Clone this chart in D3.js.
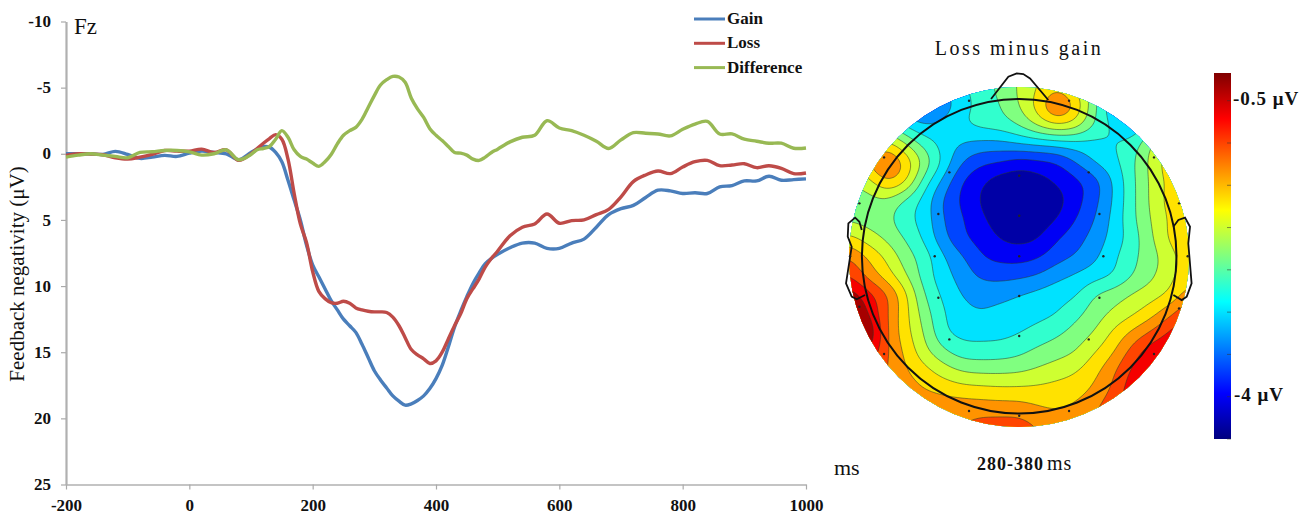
<!DOCTYPE html>
<html>
<head>
<meta charset="utf-8">
<script src="https://cdnjs.cloudflare.com/ajax/libs/d3/7.8.5/d3.min.js"></script>
<style>
html,body{margin:0;padding:0;background:#fff}
svg{display:block}
text{font-family:"Liberation Serif","Times New Roman",serif;fill:#111}
.tick text{font-weight:bold;font-size:17px}
</style>
</head>
<body>
<svg id="c" width="1305" height="516"></svg>
<script>
// ---------- ERP waveforms at Fz ----------
const timeMs = [-200,-180,-160,-140,-120,-100,-80,-60,-40,-20,0,20,40,60,80,100,
110,120,130,140,150,160,170,180,190,200,210,220,230,240,250,260,270,280,290,300,
310,320,330,340,350,360,370,380,390,400,410,420,430,440,450,460,470,480,490,500,
520,540,560,580,600,620,640,660,680,700,720,740,760,780,800,820,840,860,880,900,920,940,960,980,1000];
const gain = [0,0,0,.05,-.18,.05,.35,.25,.12,.2,-.05,-.2,-.1,0,.45,-.1,
-.35,-.55,-.5,-.1,.6,2.0,3.5,5.0,6.9,8.4,9.3,10.2,11.1,11.8,12.5,13.0,13.5,14.4,15.4,16.4,
17.1,17.7,18.3,18.7,19.0,18.9,18.65,18.3,17.75,17.0,16.0,14.6,13.1,11.9,10.8,9.8,9.0,8.3,7.9,7.6,
7.1,6.75,6.75,7.15,7.15,6.75,6.45,5.55,4.6,4.15,3.9,3.3,2.75,2.8,3.0,2.95,3.0,2.5,2.4,2.05,2.05,1.7,2.0,1.95,1.9];
const loss = [.12,0,.02,.07,.3,.4,.25,.05,-.25,-.2,-.2,-.35,-.1,-.3,.5,0,
-.4,-.8,-1.15,-1.45,-1.1,.4,3.0,5.3,6.7,8.9,10.4,10.95,11.25,11.3,11.15,11.3,11.65,11.8,11.9,11.95,
11.95,12.0,12.35,13.0,13.9,14.8,15.2,15.5,15.85,15.65,15.0,14.0,13.0,12.1,10.95,10.2,9.45,8.55,7.9,7.35,
6.2,5.55,5.3,4.55,5.25,5.05,5.0,4.6,4.2,3.25,2.1,1.6,1.3,1.5,1.0,.6,.5,.9,.85,.75,1.05,.9,1.1,1.5,1.45];
const difference = [.25,.1,0,.1,.2,.3,-.1,-.15,-.25,-.25,-.15,.1,0,-.3,.45,.05,
-.3,-.4,-.55,-1.1,-1.75,-1.25,-.3,.2,.4,.7,.95,.6,.05,-.75,-1.4,-1.75,-2.0,-2.6,-3.5,-4.4,
-5.2,-5.6,-5.85,-5.8,-5.4,-4.2,-3.4,-2.75,-1.9,-1.4,-1.0,-.55,-.1,-.05,.1,.4,.5,.25,-.1,-.35,
-.9,-1.25,-1.4,-2.5,-1.95,-1.75,-1.4,-.95,-.4,-1.05,-1.6,-1.55,-1.5,-1.35,-1.85,-2.25,-2.45,-1.5,-1.5,-1.1,-.95,-.8,-.8,-.42,-.44];
const seriesNames = ["Gain","Loss","Difference"];
const seriesColors = ["#4a7ebb","#be4b48","#98b954"];
const xTicks = [-200,0,200,400,600,800,1000];
const yTicks = [-10,-5,0,5,10,15,20,25];

// ---------- scalp map: potential on the 13-band colour scale, 19 x 19 samples ----------
const scalpGrid = [
[6,5.5,5,4,3.5,4,4.8,5.5,6.3,7.1,8,8.6,7.8,6.3,5,4.5,5,6.5,8],
[6,6,5,3.3,2.7,3.3,4.7,5.2,6.0,7.0,8.4,10.2,8.8,6.2,4.2,3.4,4.5,6.5,8],
[6,6,6,4.8,4.0,4.4,4.9,5.3,5.5,6.1,7.2,8.0,7.5,5.9,4.8,4.0,5.5,7,8],
[7,7.5,8.3,7.0,5.6,4.6,3.95,3.7,3.7,4.0,4.2,4.4,4.6,4.7,5.0,5.4,7.0,8,8.5],
[7.5,9.0,10.2,8.7,6.65,4.75,3.0,2.2,1.95,1.5,1.7,2.0,3.0,4.05,4.7,5.8,7.3,8.6,9],
[7.0,7.6,9.0,8.1,5.5,3.7,2.0,1.2,.5,.35,.6,1.15,1.75,2.6,4.1,5.75,7.2,8.3,8.5],
[6.5,6.6,6.8,5.8,4.6,2.9,1.8,.9,.3,.1,.2,.6,1.6,2.7,4.1,5.75,7.2,8.4,9.2],
[6.8,6.6,6.3,5.3,4.6,3.0,2.1,1.2,.5,.1,.4,1.0,2.0,3.0,4.3,5.75,7.05,8.15,9.0],
[8.3,7.5,6.8,5.9,4.8,3.3,2.2,1.6,.95,.7,.95,1.9,2.6,3.4,4.4,5.5,6.85,8.2,8.9],
[10.0,8.9,7.8,6.5,5.5,4.1,3.1,2.1,1.7,1.6,1.9,2.6,3.1,3.8,4.8,5.75,6.6,7.6,8.6],
[11.0,9.7,8.5,7.1,5.55,4.4,3.6,2.8,2.7,2.8,3.1,3.7,4.15,4.6,5.05,6.0,6.8,7.75,8.6],
[12.6,11.4,10.1,8.2,6.0,4.8,3.95,3.7,3.7,4.0,4.3,4.6,4.9,6.0,6.5,7.1,7.6,8.2,9.5],
[13.5,12.0,10.1,8.3,6.5,5.1,4.3,4.05,4.3,4.5,4.7,4.98,5.7,6.5,7.2,7.85,8.65,9.8,11],
[14,13,10.1,8.4,6.9,5.2,4.7,4.65,4.7,4.95,5.35,5.8,6.4,7.05,8.2,9.2,10.15,11.2,11.8],
[13,12,10.1,8.8,7.3,6.2,5.5,5.45,5.5,5.75,6.25,6.6,7.0,7.95,8.9,10.4,11.6,11.85,11.9],
[12,11,10.0,9.1,8.35,7.5,6.9,6.75,6.75,6.85,7.15,7.5,7.9,8.7,9.8,11.2,11.85,11.9,11.9],
[12,11,10,9.5,9.0,8.7,8.4,8.3,8.2,8.2,8.25,8.4,8.6,9.2,10.2,11.6,11.85,11.9,11.9],
[11.5,11,10,9.8,9.7,9.6,9.6,9.55,9.5,9.45,9.1,8.9,9.2,9.8,10.8,11.7,11.85,11.9,11.9],
[11,10.5,10,9.6,9.6,9.8,10.0,10.4,10.5,10.5,10,9.7,9.8,10.2,11,11.6,11.85,11.9,11.9]
];
const bandCount = 13;
const barTicks = [-4.5,-4,-3.5,-3,-2.5,-2,-1.5,-1,-.5];
const jetStops = ["#00007f","#0000ff","#00ffff","#ffff00","#ff0000","#7f0000"];
const jetDomain = [0,.125,.375,.625,.875,1];

// head outline and electrodes in head-radius units
const nose = [[-.179,-.999],[-.069,-1.141],[-.016,-1.162],[.026,-1.158],[.069,-1.130],[.185,-.993]];
const earLeft = [[-1.001,-.166],[-1.016,-.219],[-1.043,-.245],[-1.086,-.209],[-1.09,-.124],[-1.065,-.06],[-1.101,.173],[-1.065,.257],[-1.033,.274],[-.98,.247]];
const earRight = [[.98,-.187],[1.012,-.23],[1.054,-.245],[1.086,-.187],[1.075,-.082],[1.096,.173],[1.065,.257],[1.033,.279],[.98,.247]];
const electrodes = [[-.319,-.988],[.317,-.988],[-.859,-.628],[.857,-.628],[-.444,-.533],[0,-.512],[.442,-.533],
[-1.016,-.336],[-.514,-.268],[0,-.257],[.51,-.268],[1.016,-.336],[-1.075,0],[-.537,0],[0,0],[.535,0],[1.071,0],
[-1.016,.321],[-.514,.264],[0,.253],[.51,.264],[1.016,.332],[-.444,.529],[0,.507],[.442,.529],[-.859,.622],[.857,.622],[-.319,.984],[.317,.984],[0,1.014]];

// ---------- drawing ----------
const svg = d3.select("#c");
const x = d3.scaleLinear().domain([-200,1000]).range([66,806]);
const y = d3.scaleLinear().domain([-10,25]).range([21.5,484.5]);

const gx = svg.append("g").attr("transform","translate(0,484.5)")
  .call(d3.axisBottom(x).tickValues(xTicks).tickSize(5).tickSizeOuter(0).tickPadding(9).tickFormat(String));
const gy = svg.append("g").attr("transform","translate(66,0)")
  .call(d3.axisLeft(y).tickValues(yTicks).tickSize(5).tickSizeOuter(0).tickPadding(10).tickFormat(String));
gx.selectAll("line").attr("stroke","#aaa").attr("stroke-width",1.2);
gy.selectAll("line").attr("stroke","#aaa").attr("stroke-width",1.2);
gx.select(".domain").attr("stroke","#b0b0b0").attr("stroke-width",1.4);
gy.select(".domain").attr("stroke","#b0b0b0").attr("stroke-width",2.2);
gx.selectAll("text").attr("dy",null).attr("y",26);
gy.selectAll("text").attr("dy","0.3em");

const line = d3.line().x((d,i)=>x(timeMs[i])).y(d=>y(d)).curve(d3.curveCatmullRom.alpha(.5));
[gain,loss,difference].forEach((s,i)=>{
  svg.append("path").attr("d",line(s)).attr("fill","none")
     .attr("stroke",seriesColors[i]).attr("stroke-width",3.4).attr("stroke-linejoin","round");
});

// legend
seriesNames.forEach((n,i)=>{
  const ly = 19+i*24.3;
  svg.append("line").attr("x1",694).attr("x2",725).attr("y1",ly).attr("y2",ly)
     .attr("stroke",seriesColors[i]).attr("stroke-width",3);
  svg.append("text").attr("x",727).attr("y",ly+5).attr("font-weight","bold").attr("font-size",17).text(n);
});

svg.append("text").attr("x",74).attr("y",34).attr("font-size",23).text("Fz");
svg.append("text").attr("transform","translate(24,274) rotate(-90)").attr("text-anchor","middle")
   .attr("font-size",21).text("Feedback negativity (\u03bcV)");
svg.append("text").attr("x",834).attr("y",475).attr("font-size",22).text("ms");

// scalp map: refine the sampled grid, soften it, then trace the bands
const jet = d3.scaleLinear().domain(jetDomain).range(jetStops);
const rows = scalpGrid.length, cols = scalpGrid[0].length, k = 8;
const gridX = d3.scaleLinear().domain([0,cols-1]).range([849,1189]);
const gridY = d3.scaleLinear().domain([0,rows-1]).range([87,427]);
function cub(a,b,c,d,t){return b+.5*t*(c-a+t*(2*a-5*b+4*c-d+t*(3*(b-c)+d-a)));}
function at(r,c){return scalpGrid[Math.max(0,Math.min(rows-1,r))][Math.max(0,Math.min(cols-1,c))];}
const nx=(cols-1)*k+1, ny=(rows-1)*k+1;
let fine=new Float64Array(nx*ny);
for(let j=0;j<ny;j++){const fy=j/k,r=Math.min(rows-2,Math.floor(fy)),ty=fy-r;
  for(let i=0;i<nx;i++){const fx=i/k,c=Math.min(cols-2,Math.floor(fx)),tx=fx-c;
    const v=[-1,0,1,2].map(dr=>cub(at(r+dr,c-1),at(r+dr,c),at(r+dr,c+1),at(r+dr,c+2),tx));
    fine[j*nx+i]=cub(v[0],v[1],v[2],v[3],ty);
  }}
const sigma=3, rad=9, kern=d3.range(-rad,rad+1).map(d=>Math.exp(-d*d/(2*sigma*sigma)));
const kSum=d3.sum(kern);
function pass(src,dx,dy){
  const out=new Float64Array(nx*ny);
  for(let j=0;j<ny;j++)for(let i=0;i<nx;i++){
    let s=0;
    for(let t=-rad;t<=rad;t++){
      const ii=Math.max(0,Math.min(nx-1,i+t*dx)), jj=Math.max(0,Math.min(ny-1,j+t*dy));
      s+=kern[t+rad]*src[jj*nx+ii];
    }
    out[j*nx+i]=s/kSum;
  }
  return out;
}
fine=pass(pass(fine,1,0),0,1);
const thresholds = d3.range(1,bandCount);
const contours = d3.contours().size([nx,ny]).thresholds(thresholds)(fine);
const proj = d3.geoTransform({point(px,py){this.stream.point(gridX((px-.5)/k),gridY((py-.5)/k));}});
const gpath = d3.geoPath(proj);
const defs = svg.append("defs");
defs.append("clipPath").attr("id","disc").append("circle").attr("cx",1019).attr("cy",257).attr("r",170);
const map = svg.append("g").attr("clip-path","url(#disc)");
map.append("circle").attr("cx",1019).attr("cy",257).attr("r",171).attr("fill",jet(.5/bandCount));
map.selectAll("path.band").data(contours).join("path").attr("class","band")
   .attr("d",gpath).attr("fill",d=>jet((d.value+.5)/bandCount))
   .attr("stroke","#2b3a2b").attr("stroke-opacity",.75).attr("stroke-width",.7);

// head
const hx = d3.scaleLinear().domain([-1,1]).range([1019.2-157.3,1019.2+157.3]);
const hy = d3.scaleLinear().domain([-1,1]).range([256.2-157.3,256.2+157.3]);
const headLine = d3.line().x(d=>hx(d[0])).y(d=>hy(d[1]));
const head = svg.append("g").attr("fill","none").attr("stroke","#111").attr("stroke-width",1.8);
[nose,earLeft,earRight].forEach(p=>head.append("path").attr("d",headLine(p)));
head.append("circle").attr("cx",hx(0)).attr("cy",hy(0)).attr("r",hx(1)-hx(0)).attr("stroke-width",2);
svg.append("g").selectAll("circle").data(electrodes).join("circle")
   .attr("cx",d=>hx(d[0])).attr("cy",d=>hy(d[1])).attr("r",1.2).attr("fill","#222");

// colour bar
const uv = d3.scaleLinear().domain([-4,-.5]).range([396.7,100.7]);
const barTop = 73, barBottom = 439;
const grad = defs.append("linearGradient").attr("id","jet").attr("x1",0).attr("x2",0).attr("y1",1).attr("y2",0);
jetDomain.forEach((o,i)=>grad.append("stop").attr("offset",o).attr("stop-color",jetStops[i]));
svg.append("rect").attr("x",1214).attr("y",barTop).attr("width",17).attr("height",barBottom-barTop).attr("fill","url(#jet)");
svg.append("g").selectAll("line").data(barTicks).join("line")
   .attr("x1",1227).attr("x2",1231).attr("y1",d=>uv(d)).attr("y2",d=>uv(d))
   .attr("stroke","#333").attr("stroke-opacity",.55).attr("stroke-width",1);
svg.append("text").attr("x",1233).attr("y",105).attr("font-weight","bold").attr("font-size",19).attr("letter-spacing",1).text("-0.5 \u03bcV");
svg.append("text").attr("x",1234).attr("y",401).attr("font-weight","bold").attr("font-size",19).attr("letter-spacing",1).text("-4 \u03bcV");

// titles
svg.append("text").attr("x",1019).attr("y",55).attr("text-anchor","middle").attr("font-size",20).attr("letter-spacing",2.5).text("Loss minus gain");
const cap = svg.append("text").attr("x",977).attr("y",470);
cap.append("tspan").attr("font-weight","bold").attr("font-size",18).attr("letter-spacing",1).text("280-380");
cap.append("tspan").attr("dx",3).attr("font-size",20).attr("letter-spacing",1).text("ms");
</script>
</body>
</html>
